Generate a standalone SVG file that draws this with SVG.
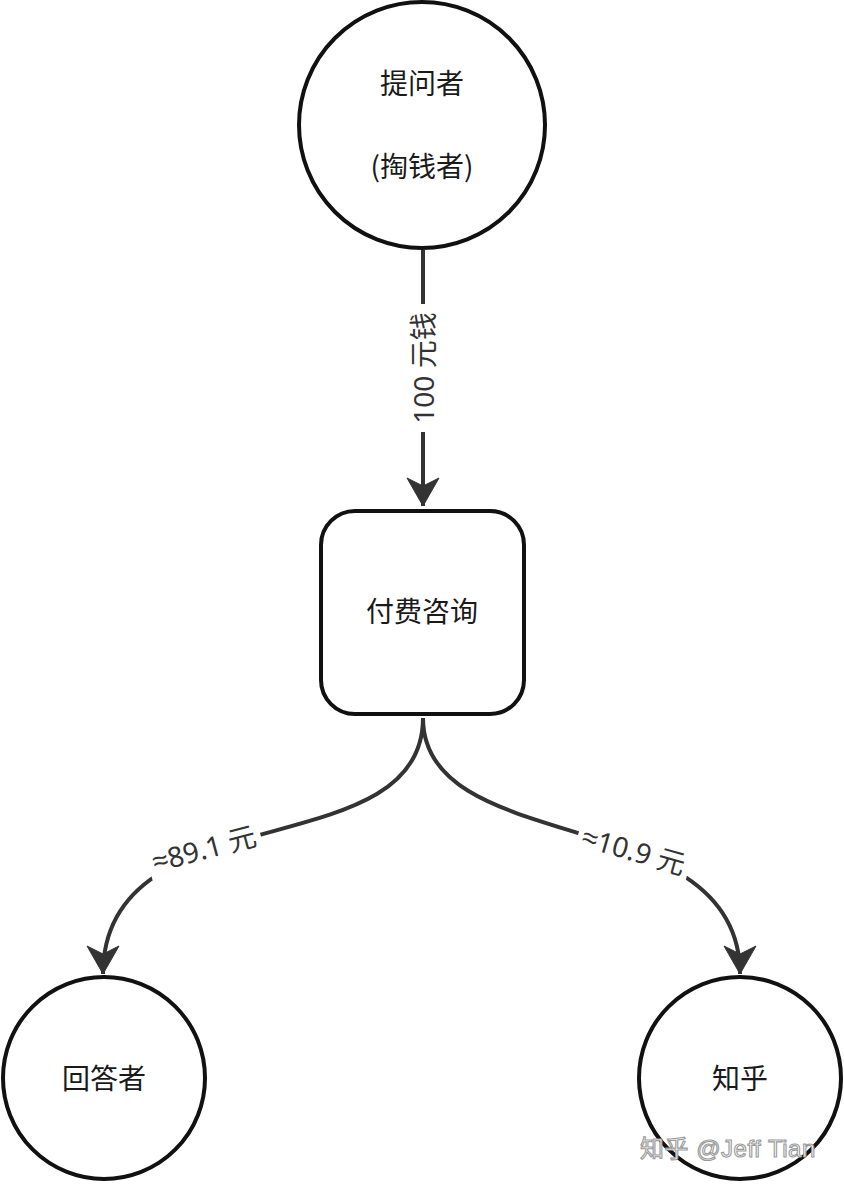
<svg xmlns="http://www.w3.org/2000/svg" width="844" height="1184" viewBox="0 0 844 1184">
<style>
.node{fill:#fff;stroke:#111;stroke-width:4}
.ntext{font-family:"Noto Sans CJK SC","Noto Sans",sans-serif;font-size:28px;fill:#1a1a1a;text-anchor:middle;dominant-baseline:central}
.edge{fill:none;stroke:#333;stroke-width:4}
.elabel{font-family:"Noto Sans","Noto Sans CJK SC",sans-serif;font-size:28px;fill:#333;text-anchor:middle;dominant-baseline:central}
.approx{font-family:"Liberation Sans","DejaVu Sans",sans-serif}
.wm{font-family:"Liberation Sans","Noto Sans CJK SC",sans-serif;font-size:24px;fill:#fff;stroke:#9a9a9a;stroke-width:1.1}
</style>
<defs>
<marker id="arrow" markerUnits="userSpaceOnUse" viewBox="-30 -18 32 36" refX="0" refY="0" markerWidth="32" markerHeight="36" orient="auto">
<path d="M0,0 L-28,-16 L-20,0 L-28,16 Z" fill="#333" stroke="#333" stroke-width="1" stroke-linejoin="round"/>
</marker>
</defs>
<rect width="844" height="1184" fill="#fff"/>
<g id="connectors">
<path class="edge" d="M423,250 L423,506" marker-end="url(#arrow)"/>
<path class="edge" d="M423,718 C423,870 103,790 103,974" marker-end="url(#arrow)"/>
<path class="edge" d="M423,718 C423,860 740,800 740,974" marker-end="url(#arrow)"/>
<g id="label-100">
<rect x="408" y="304" width="30" height="128" fill="#fff"/>
<text class="elabel" transform="translate(423,368) rotate(-90)">100 元钱</text>
</g>
<g id="label-891" transform="translate(204,848) rotate(-15)">
<rect x="-58" y="-18" width="116" height="36" fill="#fff"/>
<text class="elabel" x="0" y="0"><tspan class="approx">≈</tspan>89.1 元</text>
</g>
<g id="label-109" transform="translate(634,850) rotate(16)">
<rect x="-58" y="-18" width="116" height="36" fill="#fff"/>
<text class="elabel" x="0" y="0"><tspan class="approx">≈</tspan>10.9 元</text>
</g>
</g>
<g id="node-asker">
<circle class="node" cx="422" cy="125" r="123"/>
<text class="ntext" x="422" y="82">提问者</text>
<text class="ntext" x="422" y="165">(掏钱者)</text>
</g>
<g id="node-consult">
<rect class="node" x="321" y="511" width="203" height="203" rx="34" ry="34"/>
<text class="ntext" x="422" y="610">付费咨询</text>
</g>
<g id="node-answerer">
<circle class="node" cx="104" cy="1078" r="101"/>
<text class="ntext" x="104" y="1077">回答者</text>
</g>
<g id="node-zhihu">
<circle class="node" cx="740" cy="1078" r="101"/>
<text class="ntext" x="740" y="1077">知乎</text>
</g>
<text class="wm" x="640" y="1157" letter-spacing="0.5">知乎 @Jeff Tian</text>
</svg>
